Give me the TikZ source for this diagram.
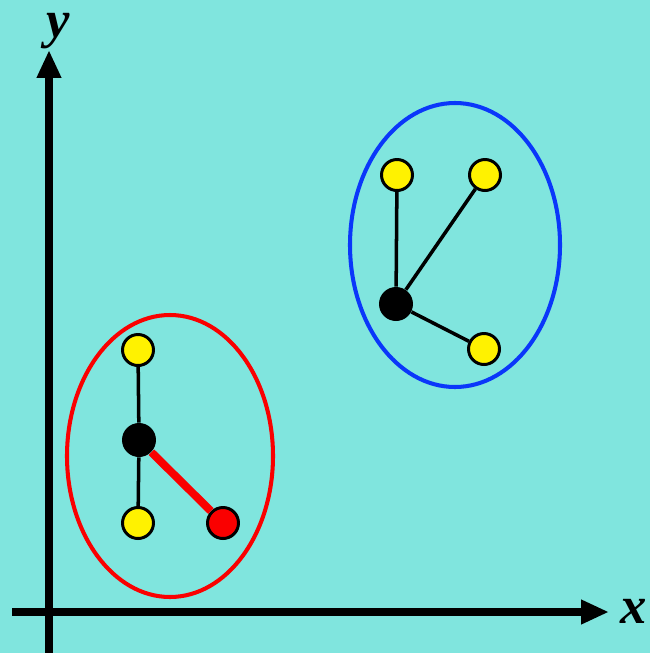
\documentclass[tikz,border=0pt]{standalone}
\usepackage{fontspec}
\newfontfamily\axisfont{Liberation Serif}
\usetikzlibrary{arrows.meta, positioning}
\definecolor{turq}{RGB}{128, 229, 222}
\definecolor{clusterred}{RGB}{250, 0, 0}
\definecolor{clusterblue}{RGB}{10, 55, 250}
\definecolor{leafyellow}{RGB}{255, 242, 0}

\begin{document}
\begin{tikzpicture}[x=0.02cm, y=-0.02cm,
  axis/.style={line width=4.5pt, -{Triangle[length=0.56cm, width=0.46cm]}},
  leaf/.style={circle, draw=black, line width=1.7pt, fill=leafyellow, minimum size=0.62cm, inner sep=0pt},
  hub/.style={circle, fill=black, minimum size=0.68cm, inner sep=0pt},
  outlier/.style={leaf, fill=clusterred},
  edge/.style={line width=2pt},
  lbl/.style={font=\axisfont\fontsize{30}{32}\selectfont\bfseries\itshape, inner sep=0pt}]
  \fill[turq] (0,0) rectangle (650,653);
  \useasboundingbox (0,0) rectangle (650,653);

  % axes
  \coordinate (ybot) at (49,653);
  \coordinate (ytop) at (49,50);
  \coordinate (xleft) at (12,612);
  \coordinate (xright) at (609,612);
  \draw[axis] (ybot) -- (ytop);
  \draw[axis] (xleft) -- (xright);
  \node[lbl] (ylab) at (58,31) {y};
  \node[lbl] (xlab) at (634,611) {x};

  % red cluster
  \draw[clusterred, line width=2.3pt] (170,456) ellipse [x radius=103, y radius=141];
  \node[hub] (h1) at (139,440) {};
  \node[leaf] (a1) at (138,350) {};
  \node[leaf] (a2) at (138,523) {};
  \node[outlier] (r1) at (223,523) {};
  \draw[edge] (h1) -- (a1);
  \draw[edge] (h1) -- (a2);
  \draw[clusterred, line width=4.5pt] (h1) -- (r1);

  % blue cluster
  \draw[clusterblue, line width=2.3pt] (455,245) ellipse [x radius=105, y radius=142];
  \node[hub] (h2) at (396,304) {};
  \node[leaf] (b1) at (397,175) {};
  \node[leaf] (b2) at (485,175) {};
  \node[leaf] (b3) at (484,349) {};
  \draw[edge] (h2) -- (b1);
  \draw[edge] (h2) -- (b2);
  \draw[edge] (h2) -- (b3);
\end{tikzpicture}
\end{document}
